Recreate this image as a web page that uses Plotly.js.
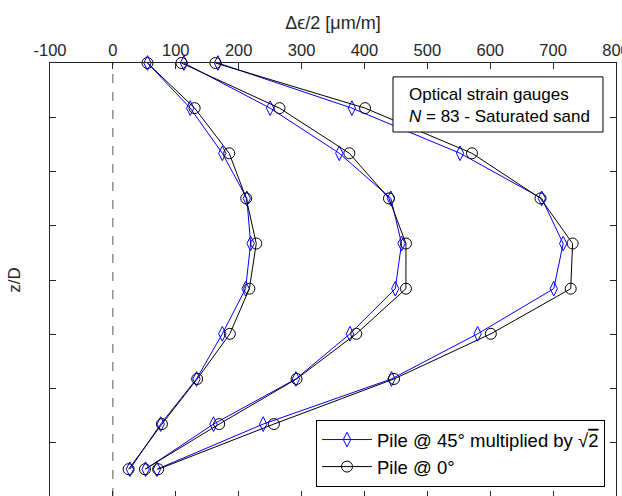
<!DOCTYPE html>
<html>
<head>
<meta charset="utf-8">
<script src="https://cdn.plot.ly/plotly-3.0.1.min.js"></script>
<style>
  html, body { margin: 0; padding: 0; overflow: hidden; background: #fff; }
  #chart { width: 622px; height: 500px; }
</style>
</head>
<body>
<div id="chart"></div>
<script>
// Depth positions of gauges (z/D)
const zD = [0, 0.832, 1.664, 2.496, 3.328, 4.16, 4.992, 5.824, 6.656, 7.488];

// Δε/2 [μm/m] – three load levels, pile @ 45° (×√2) and pile @ 0°
const pile45_A = [55, 123, 174, 213, 219, 211, 174, 133, 76, 27];
const pile0_A  = [55, 130, 185, 212, 228, 217, 186, 134, 78, 25];
const pile45_B = [113, 250, 360, 442, 459, 449, 377, 291, 160, 52];
const pile0_B  = [109, 265, 376, 439, 466, 466, 387, 292, 169, 51];
const pile45_C = [167, 380, 552, 682, 716, 701, 580, 443, 239, 70];
const pile0_C  = [163, 401, 571, 680, 731, 728, 601, 447, 256, 72];

const xTicks = [-100, 0, 100, 200, 300, 400, 500, 600, 700, 800];
const yTicks = [0, 1, 2, 3, 4, 5, 6, 7, 8];

const name45 = 'Pile @ 45° multiplied by √<span style="text-decoration:overline">2</span>';
const name0 = 'Pile @ 0°';

const BLUE = '#0000ff';
const BLACK = '#000000';

function tr(x, blue, show) {
  return {
    x: x, y: zD, type: 'scatter', mode: 'lines+markers',
    name: blue ? name45 : name0,
    legendgroup: blue ? 'g45' : 'g0',
    showlegend: show,
    cliponaxis: false,
    line: { color: blue ? BLUE : BLACK, width: 1 },
    marker: blue
      ? { symbol: 'diamond-tall-open', size: 10.5, color: BLUE, line: { width: 1, color: BLUE } }
      : { symbol: 'circle-open', size: 11, color: BLACK, line: { width: 1, color: BLACK } }
  };
}

const data = [
  tr(pile45_A, true, true), tr(pile45_B, true, false), tr(pile45_C, true, false),
  tr(pile0_A, false, true), tr(pile0_B, false, false), tr(pile0_C, false, false)
];

const AX = '#262626';
const FONT = 'Liberation Sans, Arial, Helvetica, sans-serif';

const layout = {
  width: 622, height: 500,
  margin: { l: 50, r: 6, t: 63, b: 3, pad: 0 },
  paper_bgcolor: '#fff', plot_bgcolor: '#fff',
  font: { family: FONT, size: 16.5, color: AX },
  showlegend: true,
  xaxis: {
    side: 'top', range: [-100, 800],
    tickvals: xTicks, ticktext: xTicks.map(String),
    ticks: 'inside', ticklen: 6, tickwidth: 1, tickcolor: AX,
    showline: true, linecolor: AX, linewidth: 1, mirror: 'ticks',
    showgrid: false, zeroline: false,
    tickfont: { size: 16.5, color: AX },
    ticklabelstandoff: -1,
    ticklabeloverflow: 'allow',
    title: { text: 'Δϵ/2 [μm/m]', font: { size: 18, color: AX }, standoff: 7 }
  },
  yaxis: {
    range: [8, 0], tickvals: yTicks, showticklabels: false,
    ticks: 'inside', ticklen: 6, tickwidth: 1, tickcolor: AX,
    showline: true, linecolor: AX, linewidth: 1, mirror: 'ticks',
    showgrid: false, zeroline: false,
    title: { text: 'z/D', font: { size: 17, color: AX }, standoff: 24 }
  },
  legend: {
    x: 0.9806, y: 0.023, xanchor: 'right', yanchor: 'bottom',
    bgcolor: '#fff', bordercolor: BLACK, borderwidth: 1,
    font: { size: 18.5, color: BLACK }, itemwidth: 50,
    tracegroupgap: 0
  },
  shapes: [
    { type: 'line', xref: 'x', yref: 'paper', x0: 0, x1: 0, y0: 0, y1: 1,
      line: { color: '#555', width: 1, dash: 'dash' }, layer: 'below' },
    { type: 'rect', xref: 'paper', yref: 'paper', x0: 0.606, x1: 0.977, y0: 0.841, y1: 0.968,
      fillcolor: '#fff', line: { color: BLACK, width: 1 }, layer: 'above' }
  ],
  annotations: [
    { xref: 'paper', yref: 'paper', x: 0.631, y: 0.901, xanchor: 'left', yanchor: 'middle',
      align: 'left', showarrow: false,
      text: 'Optical strain gauges<br><i>N</i> = 83 - Saturated sand',
      font: { size: 17, color: BLACK, family: FONT } }
  ]
};

Plotly.newPlot('chart', data, layout, { displayModeBar: false, staticPlot: true });
</script>
</body>
</html>
